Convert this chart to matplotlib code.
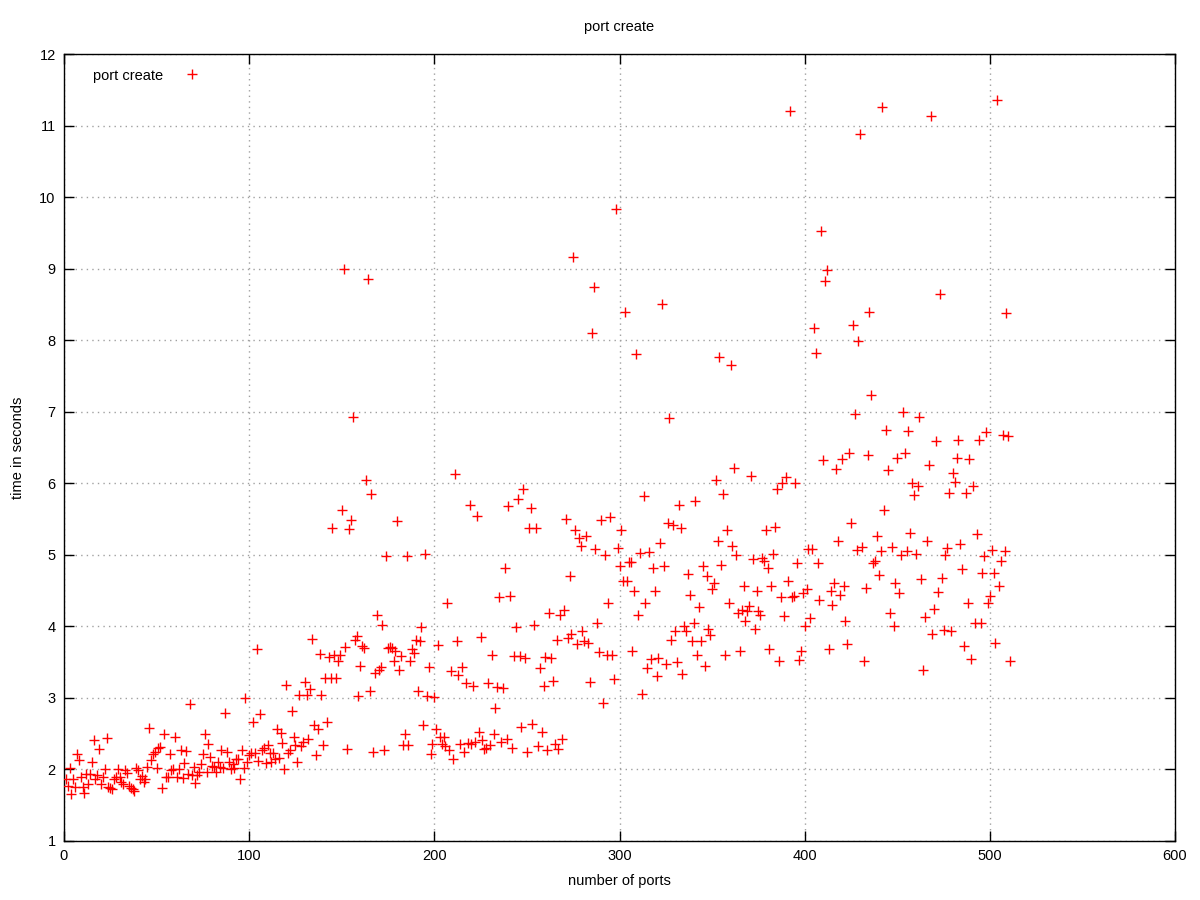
import numpy as np
import matplotlib
matplotlib.use("Agg")
import matplotlib.pyplot as plt

plt.rcParams['font.family'] = ['Liberation Sans', 'DejaVu Sans']

# time in seconds per port count in port order
times_01_088 = [1.86, 1.77, 2.02, 1.65, 1.86, 1.75, 2.22, 2.13, 1.90, 1.75,
                1.67, 1.93, 1.80, 1.93, 2.11, 2.41, 1.87, 1.92, 2.28, 1.80,
                1.90, 2.00, 2.44, 1.76, 1.74, 1.72, 1.86, 1.89, 2.00, 1.89,
                1.82, 1.79, 1.99, 1.95, 1.77, 1.74, 1.72, 1.70, 2.02, 1.99,
                1.86, 1.91, 1.83, 1.86, 2.03, 2.58, 2.13, 2.22, 2.24, 2.02,
                2.30, 2.32, 1.74, 2.50, 1.90, 1.89, 2.22, 1.99, 2.00, 2.45,
                1.89, 2.00, 2.27, 1.88, 2.09, 2.26, 1.94, 2.92, 1.92, 2.03,
                1.81, 1.92, 1.96, 2.08, 2.22, 2.50, 1.97, 2.36, 2.18, 2.05,
                2.03, 1.97, 2.11, 2.03, 2.27, 2.02, 2.79, 2.24]
times_089_176 = [2.10, 2.00, 2.07, 2.02, 2.14, 2.15, 1.87, 2.27, 2.02, 3.00,
                 2.11, 2.20, 2.23, 2.67, 2.23, 3.69, 2.12, 2.78, 2.27, 2.30,
                 2.09, 2.34, 2.23, 2.11, 2.23, 2.14, 2.56, 2.16, 2.51, 2.37,
                 2.00, 3.18, 2.23, 2.27, 2.82, 2.46, 2.34, 2.11, 3.04, 2.33,
                 2.39, 3.22, 3.04, 2.42, 3.12, 3.82, 2.62, 2.20, 2.56, 3.62,
                 3.04, 2.34, 3.28, 2.66, 3.57, 3.28, 5.37, 3.60, 3.28, 3.52,
                 3.60, 5.62, 9.00, 3.71, 2.29, 5.36, 5.48, 6.92, 3.81, 3.86,
                 3.03, 3.45, 3.73, 3.70, 6.04, 8.86, 3.10, 5.85, 2.24, 3.35,
                 4.16, 3.39, 3.43, 4.02, 2.27, 4.99, 3.70, 3.71]
times_177_262 = [3.70, 3.52, 3.65, 5.47, 3.39, 3.58, 2.34, 2.50, 4.98, 2.34,
                 3.52, 3.68, 3.63, 3.81, 3.10, 3.79, 3.99, 2.62, 5.01, 3.02,
                 3.43, 2.22, 2.36, 3.01, 2.57, 3.74, 2.46, 2.36, 2.46, 2.33,
                 4.33, 2.27, 3.38, 2.14, 6.13, 3.79, 3.32, 2.36, 3.43, 2.24,
                 3.21, 2.37, 5.69, 2.36, 3.16, 2.39, 5.54, 2.53, 3.85, 2.41,
                 2.28, 2.30, 3.21, 2.34, 3.60, 2.49, 2.86, 3.15, 4.41, 2.39,
                 3.14, 4.81, 2.42, 5.68, 4.43, 2.30, 3.58, 3.99, 5.78, 3.59,
                 2.59, 5.92, 3.56, 2.25, 5.38, 5.66, 2.63, 4.02, 5.38, 2.33,
                 3.42, 2.52, 3.17, 3.57, 2.27, 4.18]
times_263_348 = [3.56, 3.24, 2.35, 3.81, 2.28, 4.16, 2.42, 4.23, 5.50, 3.84,
                 4.71, 3.90, 9.16, 5.35, 3.76, 5.23, 5.13, 3.94, 3.79, 5.26,
                 3.77, 3.22, 8.10, 8.74, 5.08, 4.05, 3.64, 5.48, 2.93, 5.00,
                 3.60, 4.33, 5.53, 3.60, 3.27, 9.83, 5.10, 4.85, 5.35, 4.63,
                 8.39, 4.63, 4.90, 4.90, 3.66, 4.50, 7.80, 4.16, 5.03, 3.05,
                 5.82, 4.33, 3.42, 5.04, 3.54, 4.81, 4.50, 3.30, 3.56, 5.16,
                 8.50, 4.85, 3.48, 5.44, 6.91, 3.81, 5.41, 3.94, 3.50, 5.70,
                 5.37, 3.34, 4.00, 3.94, 4.73, 4.44, 3.80, 4.05, 5.75, 3.60,
                 4.27, 3.80, 4.84, 3.44, 4.70, 3.96]
times_349_435 = [3.88, 4.52, 4.61, 6.04, 5.20, 7.77, 4.86, 5.85, 3.60, 5.34,
                 4.33, 7.65, 5.12, 6.21, 5.00, 4.19, 3.65, 4.23, 4.57, 4.07,
                 4.22, 4.28, 6.10, 4.94, 3.96, 4.50, 4.21, 4.16, 4.95, 4.91,
                 5.35, 4.82, 3.68, 4.56, 5.01, 5.39, 5.92, 3.52, 4.41, 6.00,
                 4.14, 6.09, 4.63, 11.21, 4.41, 4.42, 6.01, 4.88, 3.53, 3.66,
                 4.47, 4.01, 4.52, 5.08, 4.12, 5.08, 8.17, 7.82, 4.88, 4.37,
                 9.53, 6.32, 8.83, 8.98, 3.68, 4.49, 4.30, 4.60, 6.20, 5.20,
                 4.44, 6.34, 4.56, 4.07, 3.76, 6.43, 5.44, 8.21, 6.97, 5.07,
                 7.99, 10.88, 5.11, 3.52, 4.53, 6.40, 8.40]
times_436_511 = [7.23, 4.89, 4.92, 5.27, 4.72, 5.06, 11.26, 5.63, 6.75, 6.18,
                 4.19, 5.11, 4.00, 4.60, 6.36, 4.47, 5.00, 6.99, 6.43, 5.05,
                 6.73, 5.31, 6.01, 5.84, 5.01, 5.96, 6.92, 4.66, 3.39, 4.13,
                 5.19, 6.26, 11.14, 3.90, 4.24, 6.59, 4.48, 8.65, 4.67, 3.95,
                 5.00, 5.09, 5.86, 3.93, 6.15, 6.02, 6.35, 6.60, 5.15, 4.80,
                 3.72, 5.86, 4.33, 6.34, 3.54, 5.96, 4.05, 5.29, 6.61, 4.05,
                 4.75, 4.98, 6.72, 4.33, 4.43, 5.07, 4.74, 3.77, 11.36, 4.56,
                 4.91, 6.68, 5.05, 8.38, 6.66, 3.51]

times = np.array(times_01_088 + times_089_176 + times_177_262 +
                 times_263_348 + times_349_435 + times_436_511)
ports = np.arange(1, len(times) + 1)

x_ticks = [0, 100, 200, 300, 400, 500, 600]
y_ticks = list(range(1, 13))

fig = plt.figure(figsize=(12, 9), dpi=100)
ax = fig.add_axes([64 / 1200, 1 - 841 / 900, (1175 - 64) / 1200, (841 - 54) / 900])

ax.plot(ports, times, linestyle='none', marker='+', color='#ff0000',
        markersize=7, markeredgewidth=1.0, label='port create', zorder=3)

ax.set_xlim(0, 600)
ax.set_ylim(1, 12)
ax.set_xticks(x_ticks)
ax.set_yticks(y_ticks)
ax.grid(True, color='#a0a0a0', linestyle=(0, (1, 3)), linewidth=1.0)
ax.tick_params(direction='in', top=True, right=True, length=7, width=1,
               labelsize=10.5, colors='black', pad=6)
for s in ax.spines.values():
    s.set_linewidth(1.0)
    s.set_color('black')

ax.set_xlabel('number of ports', fontsize=10.5, labelpad=8)
ax.set_ylabel('time in seconds', fontsize=10.5, labelpad=10)
fig.text(619 / 1200, 1 - 27 / 900, 'port create', ha='center', va='center',
         fontsize=10.5)

leg = ax.legend(loc='upper left', frameon=False, markerfirst=False,
                fontsize=10.5, handlelength=2.4, borderaxespad=0.6,
                handletextpad=0.8, bbox_to_anchor=(0.013, 1.0))

fig.savefig('out.png', dpi=100)
